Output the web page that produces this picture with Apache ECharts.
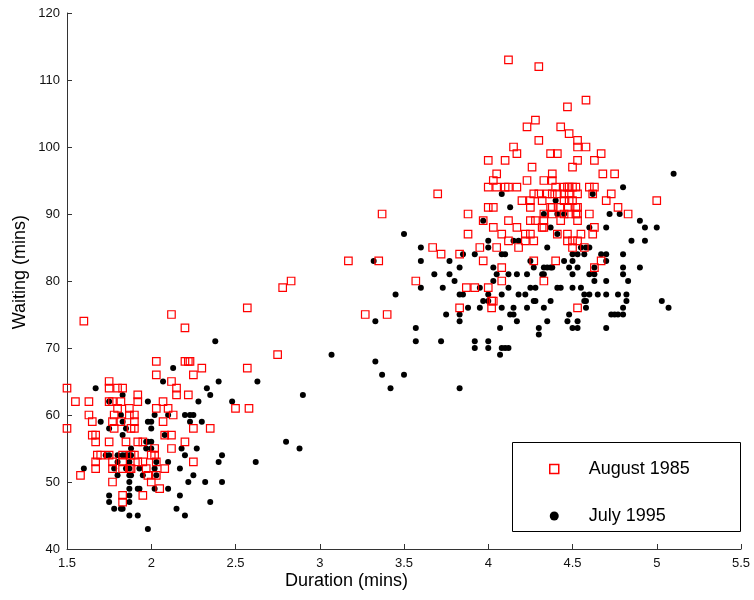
<!DOCTYPE html>
<html><head><meta charset="utf-8">
<script src="https://cdn.jsdelivr.net/npm/echarts@6/dist/echarts.min.js"></script>
<style>html,body{margin:0;padding:0;background:#fff}#c{width:754px;height:600px}</style>
</head><body><div id="c"></div>
<script>
// August 1985 (red squares)
const augDur = [
4.12,4.30,4.58,4.47,4.28,4.23,4.43,4.48,4.30,4.53,4.15,4.53,4.58,4.17,4.37,4.41,4.67,4.00,4.10,4.53,4.63,4.26,4.50,4.05,4.38,4.68,4.75,4.03,4.23,4.33,4.38,
4.00,4.05,4.10,4.12,4.17,4.40,4.45,4.47,4.48,4.50,4.52,4.60,4.63,
3.70,4.27,4.30,4.35,4.38,4.41,4.45,4.48,4.53,4.62,4.73,
4.20,4.25,4.32,4.45,4.48,4.50,4.70,5.00,
4.00,4.03,4.25,4.37,4.38,4.43,4.47,4.52,4.53,4.77,
3.37,3.88,4.33,4.38,4.45,4.48,4.52,4.53,4.60,4.83,
3.97,4.12,4.25,4.28,4.33,4.43,4.53,
4.03,4.17,4.32,4.33,4.63,
3.88,4.08,4.22,4.25,4.41,4.47,4.55,4.62,
4.12,4.22,4.27,4.47,4.50,4.53,
3.67,3.95,4.05,4.18,4.50,4.57,
3.72,3.83,
3.17,3.35,3.97,4.27,4.40,4.67,
4.08,4.63,
3.57,4.08,4.33,2.83,
3.87,3.92,4.00,2.78,
4.02,4.03,
2.57,3.83,4.02,4.53,
3.27,3.40,2.12,
2.75,2.57,2.50,2.58,1.60,2.20,
2.03,2.20,2.22,2.23,2.30,2.03,2.25,1.75,2.12,
1.50,1.75,1.80,1.83,2.15,
1.92,2.15,2.22,
1.55,1.63,1.75,1.77,1.82,1.92,2.07,
1.80,1.87,2.03,2.10,
1.63,1.78,1.87,1.90,2.13,
1.65,1.77,1.82,1.90,2.07,
1.50,1.78,1.88,1.90,2.25,2.35,
1.65,1.67,2.08,2.12,
1.67,1.75,1.85,1.92,1.95,2.20,
2.02,2.12,
1.68,1.70,1.75,1.83,1.88,1.90,2.00,2.02,
1.67,1.77,1.83,1.92,1.95,2.03,2.25,
1.67,1.77,1.83,1.87,1.88,1.97,2.08,
1.58,1.98,2.03,
1.77,2.00,
2.05,
1.83,1.95,
1.83
];
const augWait = [
113,112,107,106,104,103,103,102,101,101,100,100,100,99,99,99,99,98,98,98,98,97,97,96,96,96,96,95,95,95,95,
94,94,94,94,94,94,94,94,94,94,94,94,94,
93,93,93,93,93,93,93,93,93,93,93,
92,92,92,92,92,92,92,92,
91,91,91,91,91,91,91,91,91,91,
90,90,90,90,90,90,90,90,90,90,
89,89,89,89,89,89,89,
88,88,88,88,88,
87,87,87,87,87,87,87,87,
86,86,86,86,86,86,
85,85,85,85,85,85,
84,84,
83,83,83,83,83,83,
82,82,
80,80,80,80,
79,79,79,79,
77,77,
76,76,76,76,
75,75,75,
69,67,61,61,74,73,
68,68,68,68,67,66,66,65,65,
64,64,64,64,64,
63,63,63,
62,62,62,62,62,62,62,
61,61,61,61,
60,60,60,60,60,
59,59,59,59,59,
58,58,58,58,58,58,
57,57,57,57,
56,56,56,56,56,56,
55,55,
54,54,54,54,54,54,54,54,
53,53,53,53,53,53,53,
52,52,52,52,52,52,52,
51,51,51,
50,50,
49,
48,48,
47
];
// July 1995 (black dots)
const julDur = [
5.10,4.80,4.08,4.62,4.40,4.13,
4.33,4.41,4.45,4.72,4.78,
3.97,4.90,
4.37,4.60,4.70,4.93,5.00,
3.50,4.41,
4.00,4.15,4.18,4.85,4.93,
3.60,4.00,4.35,4.55,4.58,4.60,
3.85,3.92,4.08,4.10,4.50,4.53,4.57,4.67,4.70,4.80,
3.32,3.60,3.77,4.25,4.45,4.50,4.70,
3.83,4.03,4.27,4.33,4.35,4.37,4.38,4.48,4.53,4.63,4.80,4.90,
3.68,3.77,4.05,4.12,4.17,4.23,4.32,4.33,4.50,4.60,4.63,4.80,
3.80,4.03,4.63,4.70,4.83,
3.60,3.73,3.95,4.12,4.25,4.28,4.41,4.43,4.50,4.55,
3.45,3.83,3.85,4.00,4.08,4.18,4.22,4.57,4.60,4.65,4.70,4.77,4.82,
3.97,4.00,4.27,4.28,4.37,4.57,4.58,4.82,5.03,
3.88,3.95,4.08,4.15,4.23,4.33,4.58,4.80,5.07,
3.75,3.83,4.13,4.15,4.48,4.73,4.75,4.77,4.80,
3.33,3.83,4.17,4.35,4.47,4.53,
3.57,4.07,4.30,4.50,4.53,4.70,
4.30,
3.57,3.72,3.92,4.00,
3.92,4.00,4.08,4.10,4.12,
3.07,4.07,3.33,3.37,3.50,3.42,3.83,
2.90,2.80,2.88,2.62,2.63,2.48,2.38,
2.13,2.07,2.40,
1.67,2.33,
1.83,2.35,
1.75,1.98,2.28,
1.82,2.02,2.10,2.20,2.23,2.25,
1.70,1.83,1.98,2.00,2.23,2.30,
1.75,1.85,2.00,
1.83,2.08,
1.97,1.98,2.00,
1.88,1.97,2.00,2.18,2.27,
1.73,1.75,1.80,1.83,1.85,1.87,1.88,2.20,2.42,
1.80,1.87,2.03,2.10,2.40,
1.60,1.78,1.85,1.87,1.93,2.02,2.17,
1.80,1.87,1.88,1.95,2.03,2.25,
1.87,2.22,2.32,2.42,
1.87,1.92,1.93,2.02,2.10,
1.75,1.87,2.17,
1.75,1.87,2.35,
1.78,1.82,1.83,2.15,
1.87,1.92,2.20,
1.98
];
const julWait = [
96,94,93,93,92,91,
90,90,90,90,90,
89,89,
88,88,88,88,88,
87,87,
86,86,86,86,86,
85,85,85,85,85,85,
84,84,84,84,84,84,84,84,84,84,
83,83,83,83,83,83,83,
82,82,82,82,82,82,82,82,82,82,82,82,
81,81,81,81,81,81,81,81,81,81,81,81,
80,80,80,80,80,
79,79,79,79,79,79,79,79,79,79,
78,78,78,78,78,78,78,78,78,78,78,78,78,
77,77,77,77,77,77,77,77,77,
76,76,76,76,76,76,76,76,76,
75,75,75,75,75,75,75,75,75,
74,74,74,74,74,74,
73,73,73,73,73,73,
72,
71,71,71,71,
70,70,70,70,70,
69,69,68,66,66,64,64,
63,56,55,53,65,62,71,
67,65,65,
64,64,
63,63,
62,62,62,
60,60,60,60,60,60,
59,59,59,59,59,59,
58,58,58,
57,57,
56,56,56,
55,55,55,55,55,
54,54,54,54,54,54,54,54,54,
53,53,53,53,53,
52,52,52,52,52,52,52,
51,51,51,51,51,51,
50,50,50,50,
49,49,49,49,49,
48,48,48,
47,47,47,
46,46,46,46,
45,45,45,
43
];
const seriesNames = ['August 1985', 'July 1995'];
const xTicks = [1.5,2,2.5,3,3.5,4,4.5,5,5.5];
const yTicks = [40,50,60,70,80,90,100,110,120];

const augData = augDur.map((d,i)=>[d, augWait[i]]);
const julData = julDur.map((d,i)=>[d, julWait[i]]);

const chart = echarts.init(document.getElementById('c'), null, {renderer:'canvas'});
const axisCol = '#333';
const font = 'Liberation Sans, Arial, Helvetica, sans-serif';
chart.setOption({
  animation:false,
  backgroundColor:'#fff',
  grid:{left:67, right:13, top:13, bottom:51},
  xAxis:{
    type:'value', min:1.5, max:5.5, interval:0.5,
    axisLine:{onZero:false, lineStyle:{color:axisCol, width:1}},
    axisTick:{inside:true, length:5, lineStyle:{color:axisCol}},
    axisLabel:{color:'#111', fontSize:13, fontFamily:font, margin:8,
      formatter: v => (xTicks.includes(v) ? String(v) : '')},
    splitLine:{show:false}
  },
  yAxis:{
    type:'value', min:40, max:120, interval:10,
    axisLine:{show:true, onZero:false, lineStyle:{color:axisCol, width:1}},
    axisTick:{show:true, inside:true, length:5, lineStyle:{color:axisCol}},
    axisLabel:{color:'#111', fontSize:13, fontFamily:font, margin:7,
      formatter: v => (yTicks.includes(v) ? String(v) : '')},
    splitLine:{show:false}
  },
  legend:{
    show:true, orient:'vertical', left:544, top:455,
    itemWidth:9, itemHeight:9, itemGap:29,
    textStyle:{fontSize:18, fontFamily:font, color:'#000', padding:[0,0,0,25]},
    data:[
      {name:seriesNames[0], icon:'rect', itemStyle:{color:'#fff', borderColor:'#ff0000', borderWidth:1.5}},
      {name:seriesNames[1], icon:'circle', itemStyle:{color:'#000'}}
    ]
  },
  graphic:[
    {type:'rect', left:512, top:442, shape:{width:228, height:89}, style:{fill:'#fff', stroke:'#000', lineWidth:1}, z:-1},
    {type:'text', left:285, top:572, style:{text:'Duration (mins)', font:'18px '+font, fill:'#000'}},
    {type:'text', rotation:Math.PI/2, left:11, top:215, style:{text:'Waiting (mins)', font:'18px '+font, fill:'#000'}}
  ],
  series:[
    {name:seriesNames[0], type:'scatter', data:augData, symbol:'rect', symbolSize:7.5,
      itemStyle:{color:'rgba(255,255,255,0)', borderColor:'#ff0000', borderWidth:1.2, opacity:1}, z:3},
    {name:seriesNames[1], type:'scatter', data:julData, symbol:'circle', symbolSize:6,
      itemStyle:{color:'#000', opacity:1}, z:2}
  ]
});
</script></body></html>
